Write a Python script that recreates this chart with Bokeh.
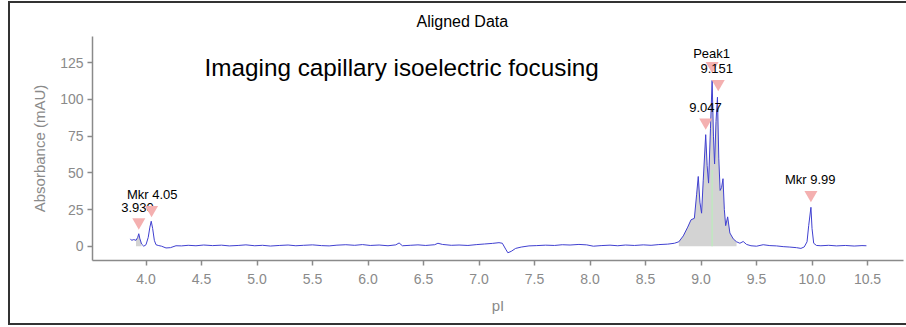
from bokeh.plotting import figure
from bokeh.models import Range1d, FixedTicker, ColumnDataSource, PrintfTickFormatter
from bokeh.core.properties import value
from bokeh.embed import file_html
from bokeh.resources import INLINE

# ---- data ----
pI = [3.86, 3.87, 3.89, 3.91, 3.925, 3.935, 3.945, 3.96, 3.98, 4.0, 4.02, 4.035, 4.047,
      4.06, 4.075, 4.09, 4.11, 4.14, 4.18, 4.22, 4.27, 4.32, 4.38, 4.45, 4.52, 4.6, 4.68,
      4.75, 4.83, 4.9, 4.98, 5.05, 5.12, 5.2, 5.28, 5.35, 5.42, 5.5, 5.58, 5.65, 5.72, 5.8,
      5.88, 5.95, 6.02, 6.1, 6.18, 6.25, 6.28, 6.31, 6.38, 6.45, 6.52, 6.6, 6.63, 6.67, 6.75,
      6.82, 6.9, 6.98, 7.05, 7.12, 7.18, 7.21, 7.24, 7.26, 7.29, 7.33, 7.38, 7.45, 7.52, 7.6,
      7.68, 7.75, 7.82, 7.9, 7.97, 8.03, 8.1, 8.18, 8.25, 8.32, 8.4, 8.48, 8.55, 8.62, 8.7,
      8.76, 8.8, 8.84, 8.88, 8.91, 8.94, 8.96, 8.975, 8.99, 9.005, 9.02, 9.042, 9.055, 9.068,
      9.085, 9.1, 9.112, 9.122, 9.135, 9.148, 9.16, 9.172, 9.185, 9.198, 9.21, 9.222, 9.24,
      9.26, 9.29, 9.32, 9.35, 9.38, 9.41, 9.45, 9.5, 9.56, 9.62, 9.68, 9.74, 9.8, 9.86, 9.9,
      9.93, 9.955, 9.97, 9.99, 10.0, 10.015, 10.04, 10.08, 10.15, 10.22, 10.3, 10.38, 10.45,
      10.49]
absorbance = [5.0, 4.0, 4.5, 4.0, 6.0, 8.5, 5.0, 1.5, 0.0, 1.0, 6.0, 13.0, 17.0,
              12.0, 4.0, 1.0, 0.5, 0.0, -1.2, -1.0, 0.3, 0.2, 0.6, 0.3, 0.8, 0.4, 0.7,
              0.2, 0.5, 0.9, 0.3, 0.6, 0.1, 0.5, 0.8, 0.3, 0.6, 0.9, 0.4, 0.2, 0.7, 1.0,
              0.6, 1.1, 0.5, 0.8, 0.3, 0.9, 2.2, 0.3, 0.6, 0.9, 0.5, 1.0, 2.0, 1.2, 0.6,
              0.8, 0.5, 1.1, 1.5, 1.9, 2.4, 2.0, -2.0, -4.5, -3.5, -1.5, -0.6, 0.2, 0.4, 0.7,
              0.5, 1.0, 0.8, 1.2, 0.9, 0.0, 0.4, 0.7, 0.3, 0.8, 0.5, 0.9, 0.6, 1.1, 1.4,
              2.0, 3.0, 7.0, 13.0, 18.0, 19.0, 35.0, 47.5, 30.0, 22.5, 45.0, 76.0, 55.0, 43.0,
              80.0, 113.0, 75.0, 56.0, 85.0, 101.5, 60.0, 38.0, 40.0, 46.0, 25.0, 14.0, 20.0,
              9.0, 5.0, 3.0, 2.0, 3.2, 1.2, 0.3, 0.0, 1.0, 0.4, 0.2, -0.3, -0.6, -1.0, -1.5,
              -0.5, 3.0, 14.0, 26.5, 12.0, 2.0, 0.5, 0.3, 0.6, 0.2, 0.5, 0.1, 0.4,
              0.3]

# shaded peak region
fill_lo = 8.78
fill_hi = 9.33
small_fill_lo = 3.90
small_fill_hi = 3.96
peak_center = 9.1
peak_center_height = 52.0

# markers (inverted triangles)
marker_x = [3.935, 4.05, 9.042, 9.1, 9.155, 9.99]
marker_y = [16.4, 24.8, 84.5, 123.0, 110.7, 35.0]

# peak labels
label_text = ["Mkr 4.05", "3.930", "Peak1", "9.151", "9.047", "Mkr 9.99"]
label_x = [4.056, 3.923, 9.095, 9.142, 9.04, 9.984]
label_y = [35.2, 26.6, 131.6, 120.9, 94.3, 45.3]

x_ticks = [4.0, 4.5, 5.0, 5.5, 6.0, 6.5, 7.0, 7.5, 8.0, 8.5, 9.0, 9.5, 10.0, 10.5]
y_ticks = [0, 25, 50, 75, 100, 125]

FONT = "Liberation Sans"
GRAY = "#8a8a8a"

p = figure(width=906, height=324, output_backend="svg", toolbar_location=None,
           x_range=Range1d(3.518, 10.824), y_range=Range1d(-9.75, 142.9),
           min_border_left=82, min_border_right=13, min_border_top=33, min_border_bottom=67)
p.styles = {"margin-left": "8px", "margin-top": "1px",
            "border-left": "2px solid #333333", "border-top": "2px solid #333333",
            "border-bottom": "2px solid #333333"}
p.background_fill_color = "white"
p.border_fill_color = "white"
p.outline_line_color = None
p.xgrid.visible = False
p.ygrid.visible = False

p.title.text = "Aligned Data"
p.title.align = "left"
p.title.offset = 324
p.title.standoff = 14
p.title.text_font = FONT
p.title.text_font_size = "16px"
p.title.text_font_style = "normal"
p.title.text_color = "black"

for ax in (p.xaxis[0], p.yaxis[0]):
    ax.axis_line_color = GRAY
    ax.axis_line_width = 1.5
    ax.major_tick_line_color = GRAY
    ax.major_tick_line_width = 1.5
    ax.major_tick_out = 5
    ax.major_tick_in = 0
    ax.minor_tick_line_color = None
    ax.major_label_text_color = GRAY
    ax.major_label_text_font = FONT
    ax.major_label_text_font_size = "14px"
    ax.axis_label_text_color = GRAY
    ax.axis_label_text_font = FONT
    ax.axis_label_text_font_size = "15px"
    ax.axis_label_text_font_style = "normal"

p.xaxis.ticker = FixedTicker(ticks=x_ticks)
p.yaxis.ticker = FixedTicker(ticks=y_ticks)
p.xaxis.formatter = PrintfTickFormatter(format="%.1f")
p.xaxis.axis_label = "pI"
p.yaxis.axis_label = "Absorbance (mAU)"
p.xaxis.major_label_standoff = 8
p.yaxis.major_label_standoff = 4
p.xaxis.axis_label_standoff = 10
p.yaxis.axis_label_standoff = 9

# shaded areas under the curve
fx = [x for x in pI if fill_lo <= x <= fill_hi]
fy = [y for x, y in zip(pI, absorbance) if fill_lo <= x <= fill_hi]
p.varea(x=fx, y1=[0] * len(fx), y2=fy, fill_color="#d3d3d3")
sx = [x for x in pI if small_fill_lo <= x <= small_fill_hi]
sy = [y for x, y in zip(pI, absorbance) if small_fill_lo <= x <= small_fill_hi]
p.varea(x=sx, y1=[0] * len(sx), y2=sy, fill_color="#d3d3d3")
p.segment(x0=[peak_center], y0=[0], x1=[peak_center], y1=[peak_center_height],
          line_color="#bfe8bf", line_width=1.5)

p.line(pI, absorbance, line_color="#4040d0", line_width=1)

# Peak1 triangle behind text
p.scatter(x=[marker_x[3]], y=[marker_y[3]], marker="inverted_triangle", size=13,
          fill_color="#f4b0b0", line_color=None)

src = ColumnDataSource(dict(x=label_x, y=label_y, t=label_text))
p.text(x="x", y="y", text="t", source=src, text_font=value(FONT), text_font_size="13px",
       text_color="black", text_align="center", text_baseline="middle")

other = [i for i in range(len(marker_x)) if i != 3]
p.scatter(x=[marker_x[i] for i in other], y=[marker_y[i] for i in other],
          marker="inverted_triangle", size=13, fill_color="#f4b0b0", line_color=None)

p.text(x=[4.527], y=[122.0], text=["Imaging capillary isoelectric focusing"],
       text_font=value(FONT), text_font_size="24.3px", text_color="black",
       text_align="left", text_baseline="alphabetic")

open("out.html", "w").write(file_html(p, INLINE))
